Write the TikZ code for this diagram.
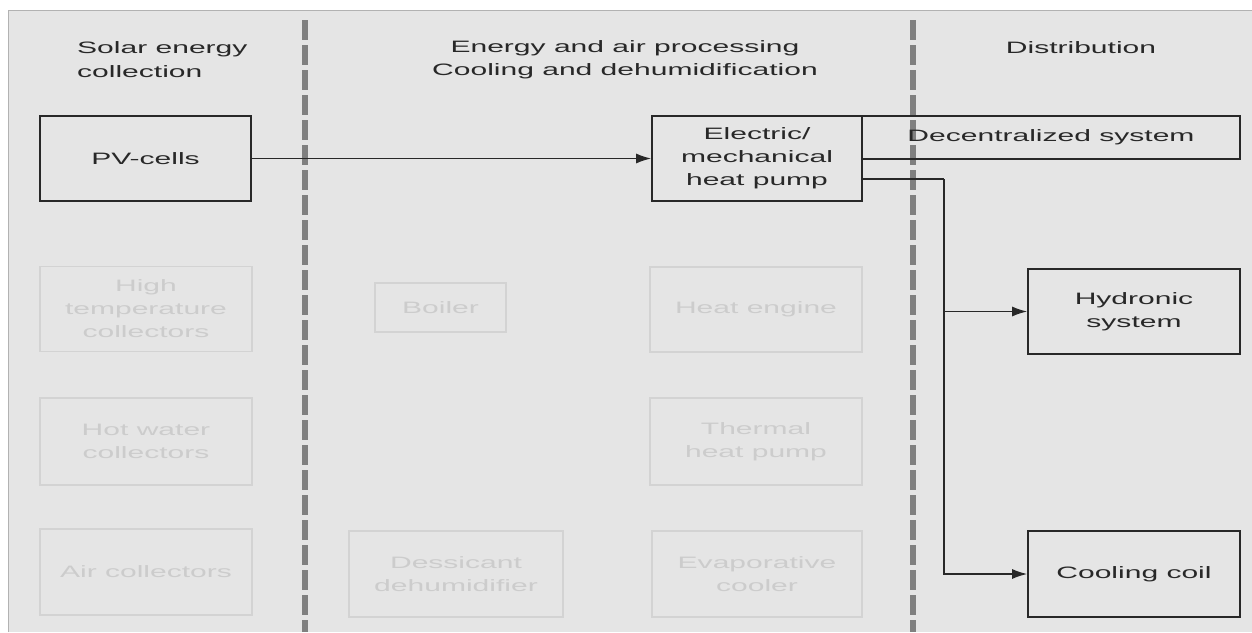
\documentclass[tikz,border=0pt]{standalone}
\usepackage{fontspec}
\setmainfont[FakeStretch=1.82]{Liberation Sans}
\usetikzlibrary{arrows.meta}
\definecolor{panel}{RGB}{229,229,229}
\definecolor{rule}{RGB}{128,128,128}
\definecolor{ink}{RGB}{40,40,40}
\definecolor{ghost}{RGB}{211,211,211}
\definecolor{ghosttext}{RGB}{204,204,204}
\tikzset{
  box/.style={draw=ink, line width=1.7pt, text=ink, align=center, inner sep=0pt,
    font=\fontsize{16.5}{23}\selectfont},
  faded/.style={draw=ghost, line width=1.5pt, text=ghosttext, align=center, inner sep=0pt,
    font=\fontsize{16.5}{23}\selectfont},
  head/.style={text=ink, inner sep=0pt, font=\fontsize{16.5}{23.5}\selectfont},
  divider/.style={draw=rule, line width=6pt, dash pattern=on 20pt off 5pt},
  arr/.style={draw=ink, line width=1.4pt, -{Latex[length=15pt,width=10pt]}},
  link/.style={draw=ink, line width=1.4pt}
}
\begin{document}
\begin{tikzpicture}[x=1pt,y=-1pt]
      \useasboundingbox (0,0) rectangle (1252,632);
      \fill[white] (0,0) rectangle (1252,632);
      \fill[panel] (8,10) rectangle (1252,632);
      \draw[gray!60, line width=1pt] (8,632) -- (8,10) -- (1252,10);
      \draw[divider] (305,20) -- (305,632);
      \draw[divider] (913,20) -- (913,632);
      \node[head, align=left, anchor=west] (hsolar) at (77,59.5) {Solar energy\\collection};
      \node[head, align=center] (hproc) at (625,59.5) {Energy and air processing\\Cooling and dehumidification};
      \node[head] (hdist) at (1081,48) {Distribution};
      \node[box, minimum width=211pt, minimum height=85pt] (pv) at (145.5,158.5) {PV-cells};
      \node[box, minimum width=210pt, minimum height=85pt] (hp) at (757,158.5) {Electric/\\mechanical\\heat pump};
      \node[box, minimum width=378pt, minimum height=43pt] (decen) at (1051,137.5) {Decentralized system};
      \node[box, minimum width=212pt, minimum height=85pt] (hydro) at (1134,311.5) {Hydronic\\system};
      \node[box, minimum width=212pt, minimum height=86pt] (coil) at (1134,574) {Cooling coil};
      \node[faded, minimum width=212pt, minimum height=85pt] (hitemp) at (146,309) {High\\temperature\\collectors};
      \node[faded, minimum width=212pt, minimum height=87pt] (hotwater) at (146,441.5) {Hot water\\collectors};
      \node[faded, minimum width=212pt, minimum height=86pt] (aircoll) at (146,572) {Air collectors};
      \node[faded, minimum width=131pt, minimum height=49pt] (boiler) at (440.5,307.5) {Boiler};
      \node[faded, minimum width=214pt, minimum height=86pt] (dessicant) at (456,574) {Dessicant\\dehumidifier};
      \node[faded, minimum width=212pt, minimum height=85pt] (engine) at (756,309.5) {Heat engine};
      \node[faded, minimum width=212pt, minimum height=87pt] (thermal) at (756,441.5) {Thermal\\heat pump};
      \node[faded, minimum width=210pt, minimum height=86pt] (evap) at (757,574) {Evaporative\\cooler};
      \coordinate (tap) at (944,179);
      \draw[arr] (pv) -- (hp);
      \draw[link] (hp.east |- tap) -- (tap);
      \draw[arr] (tap) |- (hydro.west);
      \draw[arr] (tap) |- (coil.west);
    \end{tikzpicture}
\end{document}
